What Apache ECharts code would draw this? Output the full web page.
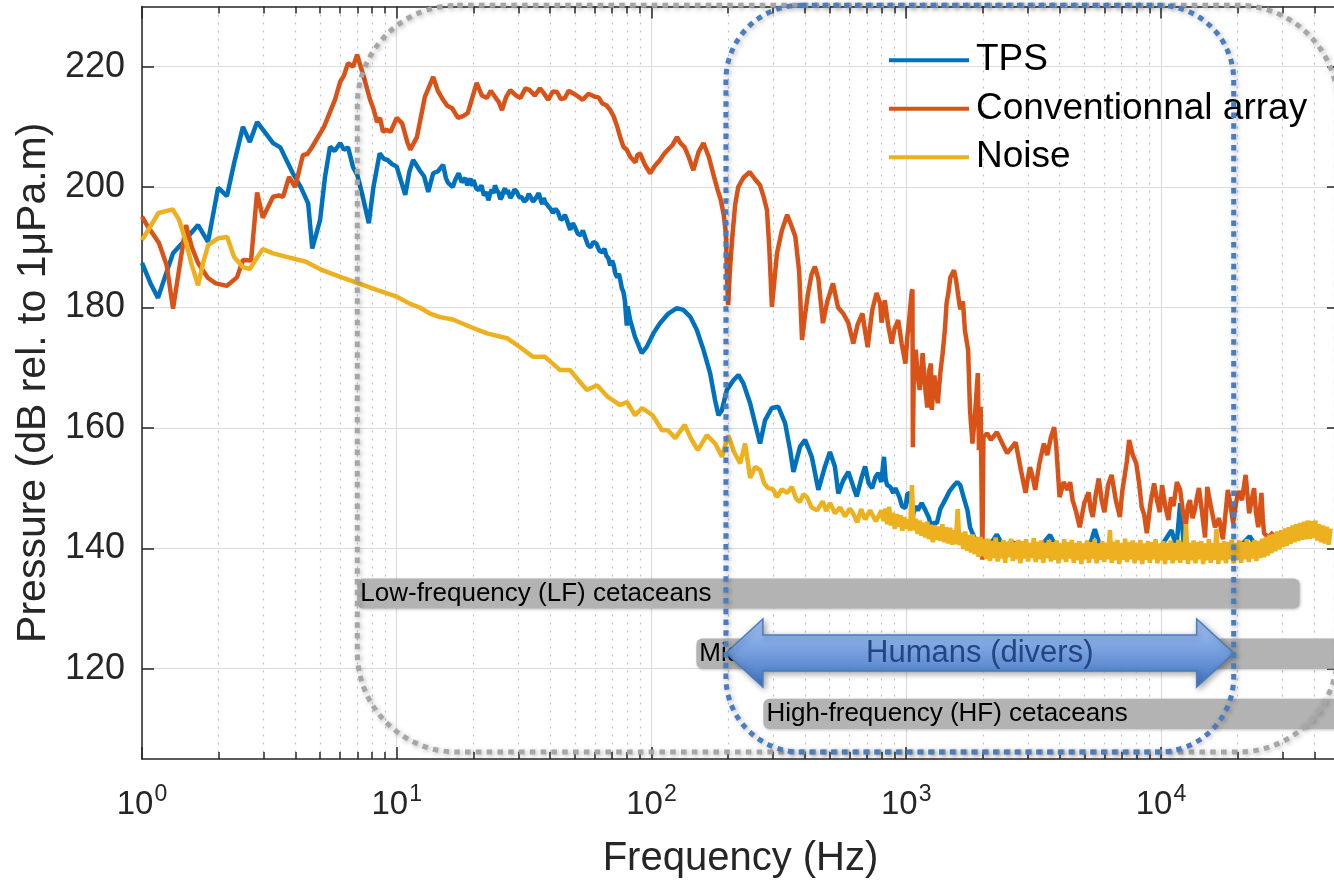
<!DOCTYPE html>
<html><head><meta charset="utf-8">
<script src="https://cdn.jsdelivr.net/npm/echarts@6/dist/echarts.min.js"></script>
<style>html,body{margin:0;padding:0;background:#fff;}#c{width:1334px;height:882px;}</style>
</head><body><div id="c"></div>
<script>
const FONT = '"Liberation Sans", Arial, Helvetica, sans-serif';
const seriesNames = ['TPS', 'Conventionnal array', 'Noise'];

const tpsData = [[1.0,187.4],[1.08,184],[1.156,181.6],[1.24,185.5],[1.324,189],[1.475,191.2],[1.66,193.7],[1.816,190.9],[1.99,199.9],[2.155,198.5],[2.3,204],[2.49,210],[2.65,207.5],[2.83,210.8],[3.05,209],[3.27,207.3],[3.49,206.6],[3.91,202.3],[4.2,200],[4.49,197.3],[4.66,189.8],[5.0,194.5],[5.23,201.7],[5.47,206.7],[5.7,206],[6.0,207.3],[6.2,206.2],[6.44,206.6],[6.74,203.3],[7.0,202],[7.3,199],[7.77,194],[8.1,200],[8.57,205.6],[8.9,204.7],[9.2,204.5],[9.6,203.8],[10.0,203.4],[10.4,201],[10.8,198.7],[11.2,202.5],[11.6,204.5],[12.3,202.8],[12.8,201.8],[13.3,199.2],[13.9,202.3],[14.5,202.6],[15.2,203.7],[15.6,201.5],[15.9,200.7],
[16.6,200],[16.9,201],[17.2,201.2],[17.5,202.3],[17.7,202],[18.0,200.8],[18.3,200.5],[18.6,201.5],[18.9,200.3],[19.2,200.9],[19.5,201.4],[19.8,200.2],[20.0,201.2],[20.5,199.8],[21,199.5],[21.5,200.3],[22.0,198.6],[22.5,199.2],[22.9,197.8],[23.3,199],[23.6,199.6],[24.0,199],[24.3,200.3],[24.7,199.5],[25.1,199.1],[25.5,198],[25.9,198.4],[26.3,199.4],[26.6,199.8],[27.0,198.9],[27.3,199.5],[27.9,198.2],[28.4,198.7],[29.0,199.6],[29.6,199.2],[30.3,198.3],[31,198.3],[31.6,197.6],[32.3,197.9],[33,198.9],[33.6,198.6],[34.3,197.6],[34.9,197.3],[35.3,198.3],[35.7,198.5],[36.1,199],[36.5,198.7],[36.9,197.6],[37.3,197.2],[37.8,198.2],[38.2,197.5],[38.9,197.1],[39.6,196.8],[40.3,196.3],[41.0,195.7],[42,196.4],[43,195.8],[44,194.6],[45.0,194.8],[45.7,195.4],[46.5,194.6],[47.2,193.7],[48.0,192.9],[49,194],[50,193.4],[51.3,192.3],[52.7,192],[53.8,192.8],[55,191.6],[56.3,190.4],[57.6,190],[59.2,190.9],[60.8,190.6],[62.5,189.4],[64.1,189.2],[65.3,189.8],[66.5,188.6],[67.7,188.2],[68.9,187],[70,187.8],[71,187.1],[72.2,185.6],[73.4,185],[74.5,185.6],[75.5,184.5],[76.5,183.2],[77.6,182.6],
[78.6,181.2],[80,177],[80.6,180.2],[82.4,178],[86.2,175.1],[91.6,172.4],[95.9,173.5],[101.7,175.7],[108,177.4],[116.5,179],[125.7,179.9],[133.4,179.6],[141.8,178.5],[150.6,176.3],[159.9,173],[169.9,169.1],[177.7,164.6],[183.2,162.1],[188.8,162.9],[197.6,166.3],[209.8,167.9],[219.5,168.8],[229.5,167.4],[243.9,164.1],[259,159.6],[266.9,157.4],[279.3,161.3],[296.6,163.3],[314.8,163.5],[334.7,160.8],[350.2,156.3],[360.8,152.7],[383.1,156.9],[400.8,158],[425.9,155.2],[451.9,149.7],[479.9,153.6],[501.9,156],[524.8,153.6],[541.5,149.1],[566.4,151.3],[592.8,152.7],[620.4,150.2],[639.6,148.6],[669.5,151.9],[690,153.6],[712,150.8],[735,150],[757,151.8],[777,152.5],[798,151],[818,155.2],[830,151.5],[841,150.5],[866,150.2],[889,149.2],[907,150],[940,148.5],[963,147],[993,146.7],[1010,149],[1030,149.2],[1060,145.2],[1085,147],[1110,146.3],[1150,147.5],[1190,146.3],[1230,145],[1250,143.5],[1280,144.2],[1320,144.2],[1360,146.5],[1400,147.5],[1440,148.5],[1480,149.5],[1530,150.3],[1585,151],[1630,150.5],[1680,148.5],[1740,146.3],[1780,143.5],[1820,142.5],[1870,141.4],[2000,140.5],[2150,140.8],[2270,142.3],[2400,140.3],[2600,141],[3000,139.8],[3400,140.5],[3670,142.2],[3900,140],[4500,140.3],[5200,139.8],[5500,143.2],[5800,140],[7000,140.4],[8500,139.9],[10000,140.3],[11000,143],[11500,140.2],[11900,147.5],[12300,140.5],[14000,140],[17000,140.2],[20000,139.9],[22300,142],[24000,140]];

const convData = [[1.0,195.1],[1.056,193.4],[1.166,190.7],[1.25,187],[1.324,179.8],[1.488,193.7],[1.57,190],[1.66,187.4],[1.816,184.9],[1.95,184],[2.155,183.6],[2.36,185],[2.49,187.9],[2.68,187.8],[2.83,199.1],[2.98,194.9],[3.27,198.4],[3.45,198.6],[3.58,198.4],[3.78,201.7],[3.99,200],[4.28,205.3],[4.46,205.5],[4.66,206.7],[5.18,210],[5.72,214.5],[6.0,217.5],[6.2,218.5],[6.44,220.6],[6.74,220],[6.99,222],[7.52,217.5],[7.86,214.5],[8.1,213],[8.37,210.8],[8.6,211.5],[8.83,209.2],[9.1,209.5],[9.46,209.2],[10.0,211.5],[10.5,210.6],[11.0,207.5],[11.3,206.2],[12.0,208.3],[12.9,215],[13.9,218.3],[14.5,216],[15.2,214.5],[15.8,213.5],[16.5,213.1],[17.4,211.5],[18.2,211.8],[19.0,212.3],[20.0,215.5],[20.6,217.3],[21.6,215.2],[22.6,214.8],[23.4,216],[24.3,215],[25.1,214.2],[25.9,212.8],[26.9,215],[27.9,216.1],[29.2,215.3],[30.6,214.8],[32,216.4],[33.3,216.1],[34.8,215.2],[36.5,216.4],[37.8,215.6],[39.3,214.5],[41,215.9],[42.6,215.8],[44.1,214.6],[45.7,214.8],[47.3,216],[49.1,215.6],[51.3,215.1],[53.7,214.5],[56.6,215.5],[60,215],[62,214.9],[64.1,213.9],[66.5,213.6],[68.9,212.8],[71,211.8],[73.4,210],[75.5,208.2],[77.6,206.7],[80,206.2],[82.6,205],[86.5,204.1],[88,205.3],[90.2,205.6],[94,203.8],[98.8,202.3],[103,203.5],[108,204.5],[112,205.5],[116,206.2],[121,207],[126,208.3],[130,207.3],[135,206.6],[140,205],[146,202.8],[153,205.8],[160,207.3],[168,205],[176,201.7],[182,199.5],[187,197.9],[192,195.5],[196,192.3],[198,185],[200,180.4],[203,186],[208,192],[213,197],[219,200],[230,201.6],[243,202.5],[255,201.3],[267,200.3],[276,198.3],[284,196.2],[290,190],[297,180.1],[303,184],[311,189],[325,192.8],[341,195.4],[355,193.5],[367,191.8],[380,186],[390,174.6],[400,178.5],[412,182.4],[425,185.5],[438,186.8],[452,184.8],[471,177.4],[490,181],[516,184],[540,180],[566,179],[592,177.5],[620,174],[645,177.2],[673,179],[690,176],[706,173.4],[735,179.5],[765,182.4],[790,180.7],[800,177.5],[824,181.2],[850,177],[877,174],[900,176.5],[930,177.9],[960,174],[993,170.7],[1010,175],[1030,178.5],[1050,182.5],[1058,183],[1062,156.8],[1070,168],[1090,173],[1110,168.5],[1130,166.3],[1160,172.4],[1185,167],[1210,163.4],[1230,169.5],[1250,170.7],[1260,163],[1290,168.7],[1310,166],[1330,164.1],[1360,169],[1390,172.4],[1420,176.5],[1440,180.7],[1465,182.5],[1490,185],[1515,184.7],[1540,186.2],[1570,184.5],[1600,182],[1630,179.7],[1670,181],[1700,176.2],[1750,172.9],[1780,163],[1820,157.4],[1860,161.8],[1910,169.1],[1930,156.3],[1960,163.5],[1990,138.1],[2010,158.5],[2080,159.1],[2150,158],[2270,159.3],[2380,157.5],[2490,155.8],[2600,156.8],[2690,157.6],[2820,153],[2940,149.2],[3000,151.5],[3060,153.5],[3130,152],[3210,149.7],[3330,154],[3470,157.4],[3580,155.5],[3700,158.5],[3810,160.1],[3880,157],[4000,148.5],[4150,151],[4300,149.7],[4400,151],[4500,148],[4650,146],[4800,143.5],[5000,147.5],[5200,149.3],[5300,146.5],[5400,145.2],[5550,149],[5700,151.6],[5850,148],[6000,146],[6200,150.5],[6400,152.2],[6650,148],[6900,145.2],[7050,149.5],[7200,152],[7350,154.5],[7500,158],[7750,155.5],[8000,154.1],[8200,151],[8400,146.9],[8600,145.5],[8800,142.5],[9100,147.5],[9400,150.8],[9650,148],[9900,146],[10100,150.5],[10400,147],[10700,144.7],[10950,148.5],[11200,147],[11550,151],[11900,149.7],[12200,146],[12500,143.5],[12750,147],[13000,148],[13300,145],[13600,146.5],[13850,148.5],[14100,150],[14500,146],[14900,141.8],[15200,150.2],[15700,147],[16300,143.5],[16900,145],[17500,141.5],[17900,145.5],[18300,149.7],[18700,147.5],[19200,144.2],[19700,147.5],[20200,149.5],[20800,148],[21500,152.2],[22200,145.8],[22700,148],[23200,150],[23600,146],[24100,143.5],[24500,146.5],[24800,149.2],[25100,145],[25400,142.5],[26500,141.8],[27600,142.7]];

const noiseData = [[1,191.2],[1.08,193.5],[1.16,195.7],[1.24,196],[1.32,196.3],[1.4,194.5],[1.48,191.2],[1.57,187],[1.66,183.7],[1.74,187.5],[1.82,190.4],[1.99,191.5],[2.16,191.7],[2.3,188.4],[2.49,186.7],[2.65,186.4],[2.8,188],[2.98,189.7],[3.27,189],[3.7,188.4],[4.4,187.6],[5.1,186.2],[6.0,185.1],[7.0,184.1],[8.4,182.9],[10,181.8],[11.3,180.6],[12.3,180],[13.5,179],[14.8,178.4],[16.6,178],[19.4,176.8],[22.6,175.7],[27.1,174.9],[30.5,173.4],[34.3,171.8],[38.2,171.8],[43.8,169.6],[47.9,169.6],[51.5,168],[55.8,166.3],[61.1,167.1],[67.6,165.1],[75.3,163.8],[80.2,164.3],[86.2,162.1],[91.9,163.3],[101,162.1],[110,159.6],[116,159.6],[124,158.3],[135,160.5],[143,158.2],[152,156.3],[165,158.8],[178,157.4],[189,155.2],[200,158.8],[211,156],[223,154.1],[233,157.4],[244,151.7],[255,153.5],[267,153],[277,150.8],[287,150],[300,149.8],[311,148.5],[325,149.8],[341,149.2],[356,150.2],[370,148.2],[383,147.7],[395,149.0],[408,148.5],[425,146.8],[447,146.3],[470,147.8],[485,146.2],[503,147.5],[525,145.8],[550,146.8],[575,145.3],[600,146.6],[619,145.8],[642,144.3],[665,146.5],[690,144.8],[722,146.3],[760,144.5],
[800,146.3],[814,144.5],[828,146.6],[842,144.0],[857,146.9],[872,143.8],[887,145.9],[902,143.2],[918,145.7],[934,143.6],[950,145.5],[966,142.9],[983,145.2],[1000,143.3],[1018,144.8],[1035,142.9],[1053,150.5],[1071,143.0],[1090,144.9],[1109,142.4],[1128,144.6],[1148,142.1],[1168,144.3],[1188,141.8],[1209,144.4],[1230,141.5],[1251,143.9],[1273,141.0],[1295,143.8],[1317,141.4],[1340,143.6],[1363,141.2],[1387,144.0],[1411,141.0],[1436,143.5],[1461,140.8],[1486,143.4],[1512,140.6],[1538,143.0],[1565,140.7],[1592,146.5],[1620,140.5],[1647,142.6],[1676,139.9],[1705,142.8],[1735,139.6],[1765,142.2],[1795,139.3],[1826,142.3],[1858,139.0],[1890,141.9],[1923,138.6],[1956,141.9],[1990,138.7],[2025,141.5],
[2060,138.2],[2096,141.6],[2132,137.9],[2169,141.2],[2207,138.4],[2245,141.8],[2284,137.8],[2324,141.0],[2364,138.3],[2405,141.4],[2447,137.6],[2489,141.1],[2532,138.5],[2576,141.6],[2621,137.9],[2667,141.0],[2713,138.2],[2760,141.4],[2808,137.5],[2856,141.2],[2906,138.3],[2956,141.5],[3008,137.8],[3060,140.9],[3113,138.4],[3167,141.7],[3222,137.7],[3278,141.1],[3335,138.2],[3393,141.3],[3452,137.6],[3511,140.9],[3572,138.4],[3634,141.4],[3697,137.8],[3762,141.0],[3827,138.1],[3893,141.3],[3961,137.5],[4029,140.8],[4099,138.2],[4170,141.5],[4243,137.7],[4316,141.0],[4391,138.3],[4467,141.4],[4545,137.6],[4624,140.9],[4704,138.0],[4786,141.2],[4869,137.4],[4953,140.8],[5039,138.2],[5127,141.3],[5216,137.6],[5306,141.0],[5398,138.3],[5492,141.5],[5587,137.5],[5684,140.8],[5783,138.1],[5883,141.2],[5985,137.7],[6089,140.9],[6195,138.2],[6302,143.0],[6412,137.6],[6523,141.1],[6636,138.0],[6751,141.4],[6868,137.4],[6987,140.8],[7109,138.1],[7232,141.6],[7358,137.7],[7485,141.0],[7615,138.2],[7747,141.3],[7882,137.5],[8018,140.9],[8157,138.0],[8298,141.4],[8443,137.4],[8589,140.8],[8738,138.1],[8890,141.2],[9044,137.6],[9201,141.0],[9361,138.2],[9523,141.5],[9689,137.5],[9856,140.8],[10027,138.0],[10201,141.2],[10378,137.4],[10558,140.9],[10742,138.1],[10927,141.3],[11117,137.5],[11310,140.9],[11506,138.0],[11706,141.4],[11909,137.6],[12115,141.0],[12325,138.1],[12539,144.0],[12757,137.4],[12978,140.9],[13204,138.0],[13433,141.3],[13666,137.5],[13903,141.0],[14144,138.2],[14390,141.2],[14640,137.4],[14893,140.8],[15152,138.0],[15415,141.5],[15682,137.6],[15954,140.9],[16231,138.1],[16513,143.2],[16799,137.4],[17091,140.9],[17387,138.0],[17689,141.2],[17996,137.5],[18308,141.0],[18626,138.2],[18949,141.4],[19278,137.5],[19612,140.9],[19953,138.1],[20298,141.3],[20651,137.6],[21009,141.0],[21373,138.2],[21744,141.5],[22122,137.7],[22505,141.0],[22896,138.3],[23293,141.4],[23697,137.9],[24108,141.2],[24526,138.4],[24952,141.6],[25385,138.5],[25825,141.9],[26273,138.8],[26729,142.2],[27193,139.2],[27665,142.4],[28145,139.5],[28633,142.8],[29130,139.8],[29635,143.0],[30149,140.2],[30672,143.3],[31204,140.4],[31746,143.5],[32297,140.7],[32857,143.8],[33427,141.0],[34007,144.0],[34597,141.2],[35197,144.2],[35808,141.4],[36429,144.4],[37061,141.5],[37704,144.6],[38358,141.6],[39024,144.5],[39701,141.7],[40390,144.6],[41091,141.3],[41803,144.0],[42529,141.0],[43266,143.8],[44017,140.8],[44781,143.6],[45558,140.6],[46348,143.3]];

const yTickValues = [120, 140, 160, 180, 200, 220];
const xDecadeExponents = [0, 1, 2, 3, 4];
const xMinorTickFreqs = [2,3,4,5,6,7,8,9,20,30,40,50,60,70,80,90,200,300,400,500,600,700,800,900,2000,3000,4000,5000,6000,7000,8000,9000,20000,30000,40000];
const xRange = [1, 50000];
const yRange = [105, 230];

const hearingNames = ['Low-frequency (LF) cetaceans', 'Mid-frequency (MF) cetaceans', 'High-frequency (HF) cetaceans'];
const hearingRanges = [[7, 35000, 130, 135], [150, 160000, 120, 125], [275, 160000, 110, 115]];
const diverLabel = 'Humans (divers)';
const diverRange = [[196, 19300, 122.6]];
const zoneRanges = [[7, 49500, 106.15, 230.2], [196, 19300, 106.15, 230.2]];

const colors = ['#0072BD', '#D95319', '#EDB120'];
const AX = '#262626';
const logMax = Math.log10(xRange[1]);
const minorLogs = xMinorTickFreqs.map(Math.log10);

const chart = echarts.init(document.getElementById('c'), null, { renderer: 'canvas' });

function valueXAxis(extra) {
  return Object.assign({
    type: 'value', min: 0, max: logMax, gridIndex: 0,
    axisLine: { show: false, onZero: false },
    axisTick: { show: false },
    axisLabel: { show: false },
    splitLine: { show: false }
  }, extra);
}

const LW = 4.5;
const option = {
  animation: false,
  backgroundColor: '#ffffff',
  grid: { left: 142, top: 6.5, width: 1197, height: 752.5, containLabel: false, outerBoundsMode: 'none' },
  legend: {
    data: seriesNames, orient: 'vertical', left: 889, top: 36, padding: 0,
    itemWidth: 80, itemHeight: 4, itemGap: 0, icon: 'rect',
    textStyle: { fontSize: 37, color: '#000', fontFamily: FONT, lineHeight: 48.5, padding: [0, 0, 0, 2] },
    selectedMode: false
  },
  xAxis: [
    { type: 'log', logBase: 10, min: xRange[0], max: xRange[1], show: false, gridIndex: 0,
      axisLine: { show: false, onZero: false }, splitLine: { show: false } },
    valueXAxis({
      position: 'bottom',
      name: 'Frequency (Hz)', nameLocation: 'middle', nameGap: 80,
      nameTextStyle: { fontSize: 40, color: AX, fontFamily: FONT },
      axisLine: { show: true, onZero: false, lineStyle: { color: AX, width: 1.5 } },
      axisTick: { show: true, inside: true, length: 12, customValues: xDecadeExponents, lineStyle: { color: AX, width: 1.5 } },
      axisLabel: { show: true, customValues: xDecadeExponents, margin: 24,
        formatter: v => '{b|10}{s|' + Math.round(v) + '}',
        rich: {
          b: { fontSize: 33, fontFamily: FONT, color: AX, lineHeight: 44 },
          s: { fontSize: 23, fontFamily: FONT, color: AX, lineHeight: 14, verticalAlign: 'top', padding: [0, 0, 0, 1] }
        } },
      splitLine: { show: true, lineStyle: { color: '#dcdcdc', width: 1.2 } }
    }),
    valueXAxis({
      position: 'bottom',
      axisTick: { show: true, inside: true, length: 7, customValues: minorLogs, lineStyle: { color: AX, width: 1.5 } },
      splitLine: { show: true, lineStyle: { color: '#c2c2c2', width: 1.2, type: [2, 6] } }
    }),
    valueXAxis({
      position: 'top',
      axisLine: { show: true, onZero: false, lineStyle: { color: AX, width: 1.5 } },
      axisTick: { show: true, inside: true, length: 12, customValues: xDecadeExponents, lineStyle: { color: AX, width: 1.5 } }
    }),
    valueXAxis({
      position: 'top',
      axisTick: { show: true, inside: true, length: 7, customValues: minorLogs, lineStyle: { color: AX, width: 1.5 } }
    })
  ],
  yAxis: [
    { type: 'value', min: yRange[0], max: yRange[1], position: 'left', gridIndex: 0,
      name: 'Pressure (dB rel. to 1\u03bcPa.m)', nameLocation: 'middle', nameGap: 86,
      nameTextStyle: { fontSize: 41, color: AX, fontFamily: FONT },
      axisLine: { show: true, onZero: false, lineStyle: { color: AX, width: 1.5 } },
      axisTick: { show: true, inside: true, length: 12, customValues: yTickValues, lineStyle: { color: AX, width: 1.5 } },
      axisLabel: { show: true, customValues: yTickValues, margin: 17, fontSize: 36, color: AX, fontFamily: FONT },
      splitLine: { show: true, lineStyle: { color: '#dcdcdc', width: 1.2 } } },
    { type: 'value', min: yRange[0], max: yRange[1], position: 'right', gridIndex: 0,
      axisLine: { show: true, onZero: false, lineStyle: { color: AX, width: 1.5 } },
      axisTick: { show: true, inside: true, length: 12, customValues: yTickValues, lineStyle: { color: AX, width: 1.5 } },
      axisLabel: { show: false }, splitLine: { show: false } }
  ],
  series: [
    { name: seriesNames[0], type: 'line', data: tpsData, xAxisIndex: 0, yAxisIndex: 0, showSymbol: false, symbol: 'none',
      color: colors[0], itemStyle: { color: colors[0] }, lineStyle: { color: colors[0], width: LW }, z: 2 },
    { name: seriesNames[1], type: 'line', data: convData, xAxisIndex: 0, yAxisIndex: 0, showSymbol: false, symbol: 'none',
      color: colors[1], itemStyle: { color: colors[1] }, lineStyle: { color: colors[1], width: LW }, z: 2 },
    { name: seriesNames[2], type: 'line', data: noiseData, xAxisIndex: 0, yAxisIndex: 0, showSymbol: false, symbol: 'none',
      color: colors[2], itemStyle: { color: colors[2] }, lineStyle: { color: colors[2], width: LW }, z: 2 },
    { name: 'hearing', type: 'custom', xAxisIndex: 0, yAxisIndex: 0, data: hearingRanges, z: 3, silent: true,
      renderItem: function (params, api) {
        const p1 = api.coord([api.value(0), api.value(3)]);
        const p2 = api.coord([api.value(1), api.value(2)]);
        return {
          type: 'rect',
          shape: { x: p1[0], y: p1[1], width: p2[0] - p1[0], height: p2[1] - p1[1], r: 6 },
          style: { fill: '#b3b3b3', shadowBlur: 3, shadowColor: 'rgba(0,0,0,0.25)', shadowOffsetX: 1, shadowOffsetY: 1 },
          textContent: { style: { text: hearingNames[params.dataIndex], fontSize: 26, fontFamily: FONT, fill: '#000' } },
          textConfig: { position: 'insideLeft', distance: 3 }
        };
      } },
    { name: 'divers', type: 'custom', xAxisIndex: 0, yAxisIndex: 0, data: diverRange, z: 4, silent: true,
      renderItem: function (params, api) {
        const a = api.coord([api.value(0), api.value(2)]);
        const b = api.coord([api.value(1), api.value(2)]);
        const y = a[1], hl = 37, hh = 34, sh = 18;
        return {
          type: 'polygon',
          shape: { points: [[a[0], y], [a[0] + hl, y - hh], [a[0] + hl, y - sh], [b[0] - hl, y - sh], [b[0] - hl, y - hh], [b[0], y],
                            [b[0] - hl, y + hh], [b[0] - hl, y + sh], [a[0] + hl, y + sh], [a[0] + hl, y + hh]] },
          style: { fill: { type: 'linear', x: 0, y: 0, x2: 0, y2: 1, colorStops: [{ offset: 0, color: '#a9c8f7' }, { offset: 1, color: '#3f72c2' }] },
                   stroke: '#4a7dbf', lineWidth: 1.5, shadowBlur: 6, shadowColor: 'rgba(0,0,0,0.35)', shadowOffsetX: 2, shadowOffsetY: 2 },
          textContent: { style: { text: diverLabel, fontSize: 31, fontFamily: FONT, fill: '#24457f' } },
          textConfig: { position: 'inside' }
        };
      } },
    { name: 'zones', type: 'custom', xAxisIndex: 0, yAxisIndex: 0, data: zoneRanges, z: 5, silent: true,
      renderItem: function (params, api) {
        const i = params.dataIndex;
        const p1 = api.coord([api.value(0), api.value(3)]);
        const p2 = api.coord([api.value(1), api.value(2)]);
        return {
          type: 'rect',
          shape: { x: p1[0], y: p1[1], width: p2[0] - p1[0], height: p2[1] - p1[1], r: i === 0 ? 100 : 75 },
          style: { fill: 'none', stroke: i === 0 ? '#a6a6a6' : '#4a7dbf', lineWidth: 5, lineDash: [5.5, 5.3],
                   shadowBlur: 5, shadowColor: 'rgba(0,0,0,0.3)', shadowOffsetX: 1.5, shadowOffsetY: 1.5 }
        };
      } }
  ]
};
chart.setOption(option);
</script></body></html>
